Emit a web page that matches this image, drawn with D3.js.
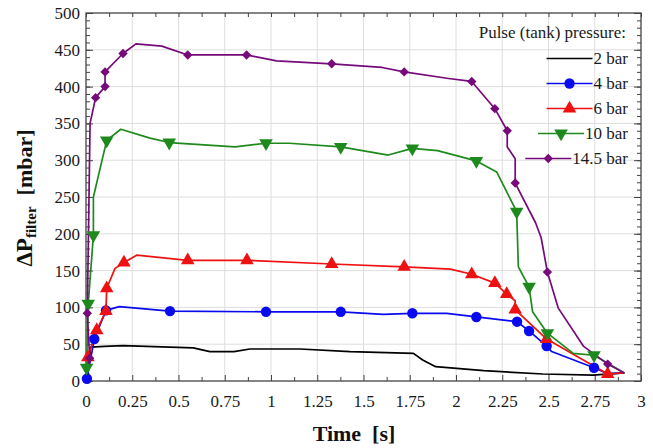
<!DOCTYPE html>
<html><head><meta charset="utf-8">
<script src="https://cdn.jsdelivr.net/npm/d3@7/dist/d3.min.js"></script>
<style>
html,body{margin:0;padding:0;background:#fff;}
svg{display:block;}
svg text{font-family:"Liberation Serif","Times New Roman",serif;}
</style></head>
<body><svg id="c" width="653" height="448"></svg>
<script>
// ---- data: [time s, ΔP mbar, marker?] ----
const seriesNames = ["2 bar","4 bar","6 bar","10 bar","14.5 bar"];
const xTicks = [0,0.25,0.5,0.75,1,1.25,1.5,1.75,2,2.25,2.5,2.75,3];
const xTickLabels = ["0","0.25","0.5","0.75","1","1.25","1.5","1.75","2","2.25","2.5","2.75","3"];
const yTicks = [0,50,100,150,200,250,300,350,400,450,500];

const bar2 = [[0.008,4],[0.025,46],[0.1,47],[0.2,48],[0.58,45],[0.67,40],[0.8,40],[0.886,43.5],[1.157,43.5],[1.427,40],[1.77,37.6],[1.82,28.5],[1.89,19.5],[2.15,14],[2.47,9.5],[2.74,8],[2.91,11]];
const bar4 = [[0.005,3,1],[0.045,57,1],[0.108,96,1],[0.18,101],[0.454,95,1],[0.973,94,1],[1.377,94,1],[1.607,90.6],[1.764,92,1],[1.95,92],[2.11,87,1],[2.33,80.6,1],[2.395,68,1],[2.49,47.5,1],[2.517,40],[2.746,18,1],[2.82,10],[2.91,11]];
const bar6 = [[0.003,18],[0.01,32,1],[0.058,69,1],[0.108,95,1],[0.112,126,1],[0.157,153],[0.205,161,1],[0.274,171],[0.55,164,1],[0.87,164,1],[1.328,159,1],[1.72,155,1],[1.97,152],[2.085,145,1],[2.21,133,1],[2.274,118,1],[2.32,109],[2.32,97,1],[2.49,57,1],[2.82,9.5,1],[2.91,11]];
const bar10 = [[0.003,18,1],[0.012,105,1],[0.04,198,1],[0.04,250],[0.112,327,1],[0.188,342],[0.346,330],[0.45,324,1],[0.805,318],[0.973,323,1],[1.1,323],[1.377,318,1],[1.634,307],[1.764,316,1],[1.9,313],[2.11,299,1],[2.22,284],[2.328,230,1],[2.337,155],[2.395,128,1],[2.414,94],[2.494,65,1],[2.634,37.6],[2.746,35,1],[2.91,11]];
const bar14 = [[0.003,10],[0.02,31,1],[0.007,92,1],[0.022,350],[0.052,385,1],[0.103,400,1],[0.103,420,1],[0.2,445,1],[0.27,458],[0.41,455],[0.55,443,1],[0.868,443,1],[1.03,435],[1.328,431,1],[1.6,426],[1.72,420,1],[1.96,411],[2.085,407,1],[2.21,370,1],[2.277,340,1],[2.277,318],[2.32,302],[2.32,269,1],[2.43,215],[2.46,195],[2.494,148,1],[2.553,99],[2.69,47],[2.82,23,1],[2.91,11]];

const seriesData = [bar2,bar4,bar6,bar10,bar14];
const colors = ["#000000","#0a0aee","#ee1111","#1e8a1e","#760a7a"];
const symbols = [null, d3.symbolCircle, d3.symbolTriangle, d3.symbolTriangle, d3.symbolSquare];
const symSizes = [0, 85, 80, 80, 44];
const symRot = [0, 0, 0, 180, 45];
const FONT = '"Liberation Serif","Times New Roman",serif';

// ---- layout ----
const svg = d3.select("#c");
const L=86, R=641, T=13, B=381;
const x = d3.scaleLinear().domain([0,3]).range([L,R]);
const y = d3.scaleLinear().domain([0,500]).range([B,T]);

// grid
const g = svg.append("g");
g.selectAll("line.vg").data(xTicks.slice(1,-1)).join("line")
  .attr("x1",d=>x(d)).attr("x2",d=>x(d)).attr("y1",T).attr("y2",B)
  .attr("stroke","#dedede").attr("stroke-width",1);
g.selectAll("line.hg").data(yTicks.slice(1,-1)).join("line")
  .attr("y1",d=>y(d)).attr("y2",d=>y(d)).attr("x1",L).attr("x2",R)
  .attr("stroke","#dedede").attr("stroke-width",1);

// axes with inward ticks
const xMinor = d3.range(0,3.0001,0.125);
const yMinor = d3.range(0,500.001,10);
function ticks(axisFn, vals, size, transform){
  svg.append("g").attr("transform",transform)
    .call(axisFn.tickValues(vals).tickSize(size).tickFormat(""))
    .call(a=>{a.select(".domain").remove(); a.selectAll("line").attr("stroke","#444").attr("stroke-width",1);});
}
ticks(d3.axisTop(x), xMinor.filter((d,i)=>i%2===1), 4, `translate(0,${B})`);
ticks(d3.axisTop(x), xTicks, 6, `translate(0,${B})`);
ticks(d3.axisBottom(x), xMinor, 4, `translate(0,${T})`);
ticks(d3.axisRight(y), yMinor, 4, `translate(${L},0)`);
ticks(d3.axisRight(y), yTicks, 7, `translate(${L},0)`);
ticks(d3.axisLeft(y), yMinor, 4, `translate(${R},0)`);
ticks(d3.axisLeft(y), yTicks, 7, `translate(${R},0)`);

// tick labels
const xl = svg.append("g").attr("transform",`translate(0,${B})`)
  .call(d3.axisBottom(x).tickValues(xTicks).tickSize(0).tickPadding(14).tickFormat((d,i)=>xTickLabels[i]));
xl.attr("font-family",FONT).attr("font-size",17);
xl.select(".domain").remove();
xl.selectAll("text").attr("fill","#1a1a1a");
const yl = svg.append("g").attr("transform",`translate(${L},0)`)
  .call(d3.axisLeft(y).tickValues(yTicks).tickSize(0).tickPadding(6));
yl.attr("font-family",FONT).attr("font-size",17);
yl.select(".domain").remove();
yl.selectAll("text").attr("fill","#1a1a1a");

// frame
svg.append("rect").attr("x",L).attr("y",T).attr("width",R-L).attr("height",B-T)
  .attr("fill","none").attr("stroke","#444").attr("stroke-width",1.3);

// series
const line = d3.line().x(d=>x(d[0])).y(d=>y(d[1]));
seriesData.forEach((data,i)=>{
  svg.append("path").datum(data).attr("d",line)
    .attr("fill","none").attr("stroke",colors[i]).attr("stroke-width",1.7).attr("stroke-linejoin","round");
});
seriesData.forEach((data,i)=>{
  if(!symbols[i]) return;
  const sym = d3.symbol().type(symbols[i]).size(symSizes[i]);
  svg.append("g").selectAll("path").data(data.filter(d=>d[2])).join("path")
    .attr("d",sym).attr("fill",colors[i])
    .attr("transform",d=>`translate(${x(d[0])},${y(d[1])}) rotate(${symRot[i]})`);
});

// legend
const lg = svg.append("g").attr("font-family",FONT);
lg.append("text").attr("x",626).attr("y",38).attr("text-anchor","end")
  .attr("font-size",17).attr("fill","#1a1a1a").text("Pulse (tank) pressure:");
seriesNames.forEach((name,i)=>{
  const cy = 58.5 + i*25;
  const t = lg.append("text").attr("x",628).attr("y",cy+5.5).attr("text-anchor","end")
    .attr("font-size",17).attr("fill","#1a1a1a").text(name);
  const w = t.node().getComputedTextLength();
  const x2 = 628 - w - 1, x1 = x2 - 46;
  lg.append("line").attr("x1",x1).attr("x2",x2).attr("y1",cy).attr("y2",cy)
    .attr("stroke",colors[i]).attr("stroke-width",1.7);
  if(symbols[i]){
    lg.append("path").attr("d",d3.symbol().type(symbols[i]).size(symSizes[i]))
      .attr("fill",colors[i]).attr("transform",`translate(${(x1+x2)/2},${cy}) rotate(${symRot[i]})`);
  }
});

// axis titles
svg.append("text").attr("x",354).attr("y",441).attr("text-anchor","middle")
  .attr("font-family",FONT).attr("font-size",22).attr("font-weight","bold").attr("fill","#111")
  .style("white-space","pre").text("Time  [s]");
const yt = svg.append("text").attr("transform","translate(32,198) rotate(-90)")
  .attr("font-family",FONT).attr("text-anchor","middle").attr("font-weight","bold").attr("fill","#111").style("white-space","pre");
yt.append("tspan").attr("font-size",23).text("ΔP");
yt.append("tspan").attr("font-size",15).attr("dy",4).text("filter");
yt.append("tspan").attr("font-size",22).attr("dy",-4).text("  [mbar]");
</script></body></html>
